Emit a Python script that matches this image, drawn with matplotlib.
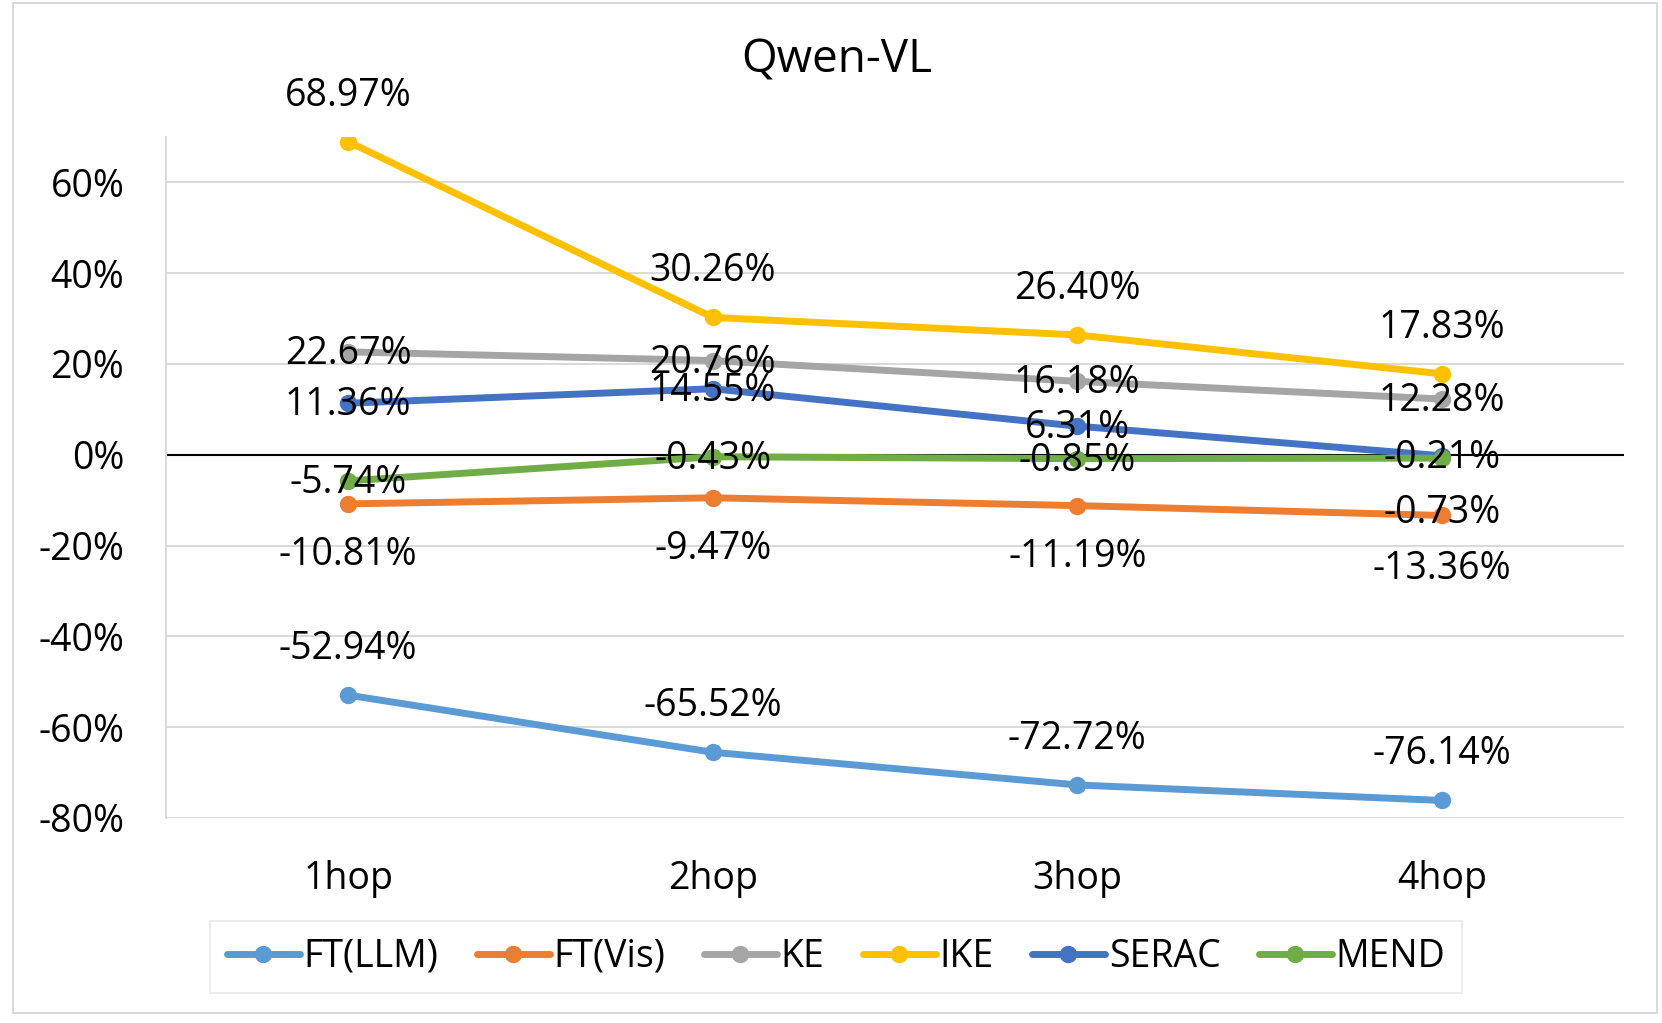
import matplotlib
matplotlib.use("Agg")
from matplotlib import pyplot as plt
from matplotlib.patches import Rectangle
import numpy as np

plt.rcParams['font.family'] = ['Open Sans', 'DejaVu Sans']

hops = ['1hop', '2hop', '3hop', '4hop']
methods = ['FT(LLM)', 'FT(Vis)', 'KE', 'IKE', 'SERAC', 'MEND']

ft_llm = [-52.94, -65.52, -72.72, -76.14]
ft_vis = [-10.81, -9.47, -11.19, -13.36]
ke = [22.67, 20.76, 16.18, 12.28]
ike = [68.97, 30.26, 26.40, 17.83]
serac = [11.36, 14.55, 6.31, -0.21]
mend = [-5.74, -0.43, -0.85, -0.73]

colors = ['#5B9BD5', '#ED7D31', '#A5A5A5', '#FFC000', '#4472C4', '#70AD47']
# where the data label sits relative to the point (pixels, + is up)
label_dy = [[46] * 4, [-51, -51, -51, -54], [-2] * 4, [46] * 4, [-2] * 4, [-2, -2, -2, -55]]

series = [ft_llm, ft_vis, ke, ike, serac, mend]

fig = plt.figure(figsize=(16.62, 10.23), dpi=100)
ax = fig.add_axes([166 / 1662, 1 - 818 / 1023, 1458 / 1662, 681 / 1023])

x = np.arange(len(hops))
fs = 27

for i in range(len(series)):
    ax.plot(x, series[i], color=colors[i], lw=5, marker='o', ms=11.5,
            label=methods[i], zorder=3 + i, solid_capstyle='round')

for i in range(len(series)):
    for j in range(len(hops)):
        v = series[i][j]
        ax.annotate('%.2f%%' % v, (x[j], v), xytext=(0, label_dy[i][j]),
                    textcoords='offset pixels', ha='center', va='center',
                    fontsize=fs, color='black', zorder=20, annotation_clip=False)

ax.set_xlim(-0.5, 3.5)
ax.set_ylim(-80, 70)
ax.set_yticks(np.arange(-80, 61, 20))
ax.set_yticklabels(['%d%%' % t for t in np.arange(-80, 61, 20)])
ax.set_xticks(x)
ax.set_xticklabels(hops)
ax.tick_params(axis='y', length=0, pad=30, labelsize=fs)
ax.tick_params(axis='x', length=0, pad=30, labelsize=fs)

ax.grid(axis='y', color='#D9D9D9', lw=1.4, zorder=0)
ax.axhline(0, color='black', lw=1.5, zorder=2)
for s in ['top', 'right', 'bottom']:
    ax.spines[s].set_visible(False)
ax.spines['left'].set_color('#D9D9D9')
ax.spines['left'].set_linewidth(1.4)

fig.text(837 / 1662, 1 - 60 / 1023, 'Qwen-VL', ha='center', va='center', fontsize=33)

leg = fig.legend(loc='center', bbox_to_anchor=(836 / 1662, 1 - 957 / 1023), ncol=6,
                 fontsize=fs, handlelength=1.95, handletextpad=0.1, columnspacing=1.02,
                 fancybox=False, edgecolor='#E6E6E6', borderpad=0.45)
leg.get_frame().set_linewidth(1.4)

fig.patches.append(Rectangle((13 / 1662, 1 - 1013 / 1023), 1644 / 1662, 1010 / 1023,
                             transform=fig.transFigure, fill=False,
                             edgecolor='#D9D9D9', lw=1.4))

fig.savefig('out.png', dpi=100)
